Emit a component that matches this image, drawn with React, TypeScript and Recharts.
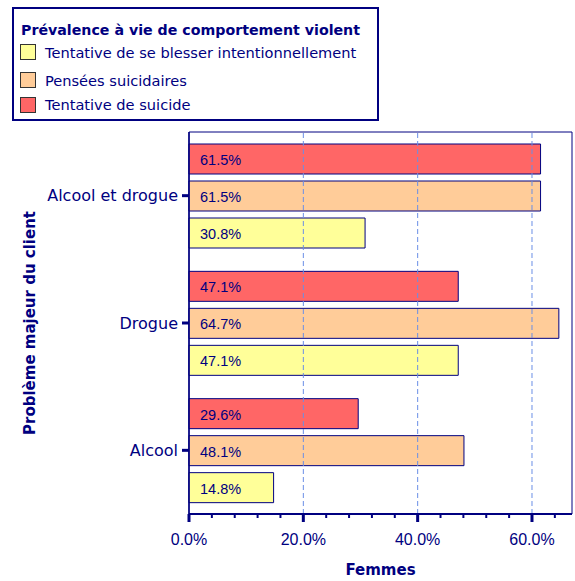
import React from "react"
import { BarChart, Bar, XAxis, YAxis, ReferenceLine, ReferenceArea, LabelList } from "recharts"

const categories = ["Alcool et drogue", "Drogue", "Alcool"]
const tentativeSuicide = [0.615, 0.471, 0.296]
const penseesSuicidaires = [0.615, 0.647, 0.481]
const tentativeBlesser = [0.308, 0.471, 0.148]

const xTicks = [0, 0.04, 0.08, 0.12, 0.16, 0.2, 0.24, 0.28, 0.32, 0.36, 0.4, 0.44, 0.48, 0.52, 0.56, 0.6, 0.64]
const majorTicks = [0, 0.2, 0.4, 0.6]

const NAVY = "#000080"
const COMIC = "'Comic Sans MS', 'DejaVu Sans', sans-serif"
const ARIAL = "'Liberation Sans', Arial, sans-serif"

const series = [
  { key: "suicide", name: "Tentative de suicide", color: "#FF6666" },
  { key: "pensees", name: "Pensées suicidaires", color: "#FFCC99" },
  { key: "blesser", name: "Tentative de se blesser intentionnellement", color: "#FFFF99" },
]

const data = categories.map((c, i) => ({
  name: c,
  suicide: tentativeSuicide[i],
  pensees: penseesSuicidaires[i],
  blesser: tentativeBlesser[i],
}))

const pct = (v: number) => (v * 100).toFixed(1) + "%"

function XTick(props: any) {
  const { x, y, payload } = props
  const major = majorTicks.some((m) => Math.abs(m - payload.value) < 1e-9)
  return (
    <g>
      <line x1={x} x2={x} y1={y} y2={y + (major ? 8 : 4)} stroke={NAVY} strokeWidth={major ? 3 : 2} />
      {major && (
        <text x={x} y={y + 31} textAnchor="middle" fill={NAVY} fontSize={16} fontFamily={ARIAL}>
          {pct(payload.value)}
        </text>
      )}
    </g>
  )
}

function BarLabel(props: any) {
  const { x, y, height, value } = props
  return (
    <text x={x + 11} y={y + height / 2 + 1} dominantBaseline="central" fill={NAVY} fontSize={14.5} fontFamily={ARIAL}>
      {pct(value)}
    </text>
  )
}

function LegendBox() {
  const rows = [...series].reverse()
  return (
    <div
      style={{
        position: "absolute",
        left: 12,
        top: 7,
        width: 367,
        height: 114,
        boxSizing: "border-box",
        border: `2px solid ${NAVY}`,
        background: "#fff",
        fontFamily: COMIC,
        color: NAVY,
      }}
    >
      <div style={{ position: "absolute", left: 7, top: 11, fontSize: 14.2, fontWeight: "bold", whiteSpace: "nowrap", lineHeight: "20px" }}>
        Prévalence à vie de comportement violent
      </div>
      {rows.map((s, i) => (
        <div key={s.key} style={{ position: "absolute", left: 6, top: 33 + [0, 28, 52.5][i], height: 20, display: "flex", alignItems: "center", whiteSpace: "nowrap" }}>
          <span style={{ width: 14, height: 14, background: s.color, border: "1px solid #333", display: "inline-block" }} />
          <span style={{ marginLeft: 9, fontSize: 14.6 }}>{s.name}</span>
        </div>
      ))}
    </div>
  )
}

export default function App() {
  return (
    <div style={{ position: "absolute", left: 0, top: 0, width: 575, height: 581, background: "#fff" }}>
      <BarChart
        width={575}
        height={581}
        data={data}
        layout="vertical"
        margin={{ top: 132, right: 3, left: 0, bottom: 0 }}
        barSize={30}
        barGap={7}
      >
        <XAxis
          type="number"
          domain={[0, 0.67]}
          ticks={xTicks}
          interval={0}
          height={67}
          tickSize={0}
          tickMargin={0}
          tickLine={false}
          tick={<XTick />}
          axisLine={{ stroke: NAVY, strokeWidth: 2 }}
          label={{ value: "Femmes", position: "insideBottom", offset: 6, fill: NAVY, fontSize: 15, fontWeight: "bold", fontFamily: COMIC }}
        />
        <YAxis
          type="category"
          dataKey="name"
          width={189}
          tickSize={7}
          tickMargin={4}
          tickLine={{ stroke: NAVY, strokeWidth: 3 }}
          axisLine={{ stroke: NAVY, strokeWidth: 1.5 }}
          tick={{ fill: NAVY, fontSize: 16, fontFamily: COMIC }}
          label={{
            content: (p: any) => {
              const cy = p.viewBox.y + p.viewBox.height / 2
              return (
                <text x={30} y={cy} transform={`rotate(-90, 30, ${cy})`} textAnchor="middle" dominantBaseline="central" fill={NAVY} fontSize={15} fontWeight="bold" fontFamily={COMIC}>
                  Problème majeur du client
                </text>
              )
            },
          }}
        />
        <ReferenceArea x1={0} x2={0.67} fill="none" stroke={NAVY} strokeWidth={1} ifOverflow="extendDomain" />
        {[0.2, 0.4, 0.6].map((v) => (
          <ReferenceLine key={v} x={v} stroke="#6A8FE6" strokeDasharray="5 3" />
        ))}
        {series.map((s) => (
          <Bar key={s.key} dataKey={s.key} name={s.name} fill={s.color} stroke={NAVY} strokeWidth={1} isAnimationActive={false}>
            <LabelList dataKey={s.key} content={<BarLabel />} />
          </Bar>
        ))}
      </BarChart>
      <LegendBox />
    </div>
  )
}
